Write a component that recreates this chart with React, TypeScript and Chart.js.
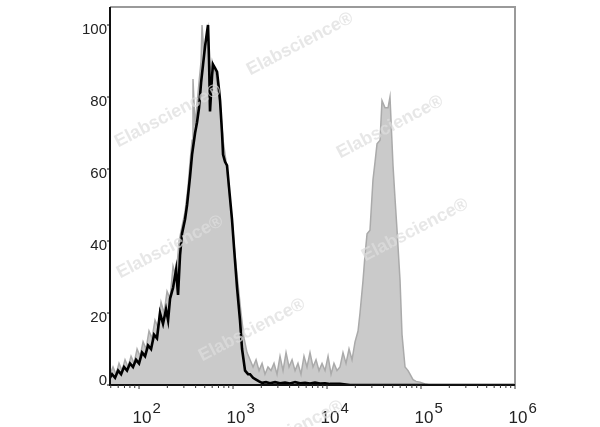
import React, { useEffect, useRef } from "react";
import { Chart, registerables } from "chart.js";

Chart.register(...registerables);

// Log10 of fluorescence intensity for each histogram bin, and normalised counts (% of max)
const stainedLogX = [
  1.691, 1.723, 1.755, 1.787, 1.819, 1.851, 1.883, 1.915, 1.947, 1.979,
  2.011, 2.043, 2.074, 2.106, 2.138, 2.170, 2.202, 2.234, 2.266, 2.298,
  2.330, 2.362, 2.394, 2.426, 2.457, 2.489, 2.521, 2.543, 2.564, 2.574,
  2.596, 2.617, 2.638, 2.660, 2.670, 2.691, 2.713, 2.734, 2.755, 2.777,
  2.798, 2.819, 2.840, 2.862, 2.894, 2.926, 2.957, 2.989, 3.021, 3.053,
  3.085, 3.117, 3.149, 3.181, 3.213, 3.245, 3.277, 3.309, 3.340, 3.372,
  3.404, 3.436, 3.468, 3.500, 3.532, 3.564, 3.596, 3.628, 3.660, 3.691,
  3.723, 3.755, 3.787, 3.819, 3.851, 3.883, 3.915, 3.947, 3.979, 4.011,
  4.043, 4.074, 4.106, 4.138, 4.170, 4.202, 4.234, 4.266, 4.298, 4.330,
  4.351, 4.383, 4.404, 4.426, 4.457, 4.489, 4.511, 4.532, 4.564, 4.585,
  4.617, 4.649, 4.670, 4.702, 4.723, 4.745, 4.777, 4.798, 4.830, 4.862,
  4.883, 4.915, 4.947, 4.989, 5.043, 5.096, 6.0,
];
const stainedCounts = [
  3, 5, 3, 6, 4, 7, 5, 8, 6, 10,
  8, 12, 10, 15, 13, 18, 16, 23, 20, 26,
  24, 33, 30, 40, 44, 48, 55, 62, 68, 85,
  72, 78, 84, 90, 100, 92, 96, 99, 86, 90,
  88, 86, 82, 78, 68, 62, 54, 46, 36, 28,
  20, 13, 9, 7, 5, 7, 4, 6, 3, 5,
  4, 6, 3, 8, 4, 9, 5, 7, 4, 6,
  3, 8, 5, 9, 5, 7, 4, 6, 4, 8,
  3, 6, 4, 5, 9, 6, 10, 7, 12, 15,
  20, 29, 36, 42, 43, 57, 62, 67, 68, 79,
  77, 77, 80, 61, 52, 43, 29, 14, 5, 4,
  3, 1.5, 1, 0.8, 0.3, 0, 0,
];

const isotypeLogX = [
  1.691, 1.713, 1.745, 1.777, 1.809, 1.840, 1.872, 1.904, 1.936, 1.968,
  2.000, 2.032, 2.064, 2.096, 2.128, 2.160, 2.191, 2.223, 2.255, 2.287,
  2.309, 2.330, 2.362, 2.394, 2.415, 2.436, 2.457, 2.489, 2.511, 2.543,
  2.564, 2.596, 2.617, 2.638, 2.660, 2.681, 2.702, 2.723, 2.734, 2.745,
  2.755, 2.777, 2.787, 2.809, 2.830, 2.851, 2.862, 2.883, 2.894, 2.915,
  2.936, 2.957, 2.989, 3.011, 3.043, 3.074, 3.096, 3.128, 3.160, 3.181,
  3.213, 3.245, 3.277, 3.309, 3.351, 3.394, 3.447, 3.500, 3.553, 3.606,
  3.660, 3.713, 3.766, 3.819, 3.872, 3.926, 3.979, 4.032, 4.138, 4.245,
  6.0,
];
const isotypeCounts = [
  2, 3, 2, 4, 3, 5, 4, 6, 5, 7,
  6, 9, 8, 11, 10, 14, 13, 20, 17, 21,
  18, 24, 27, 32, 25, 36, 42, 46, 50, 58,
  64, 70, 73, 77, 84, 89, 94, 98, 100, 90,
  76, 86, 89, 88, 87, 82, 79, 70, 64, 62,
  61, 55, 46, 38, 27, 18, 10, 4, 3, 3,
  2, 1.5, 1, 0.6, 0.8, 0.5, 0.8, 0.5, 0.7, 0.4,
  0.8, 0.5, 0.6, 0.4, 0.7, 0.4, 0.5, 0.3, 0.3, 0,
  0,
];

const yTickValues = [0, 20, 40, 60, 80, 100];
const xDecades = [2, 3, 4, 5, 6];
const xMinLog = 1.691;
const yMax = 105;
const watermarkText = "Elabscience®";
const watermarkCenters = [
  [300, 44], [168, 116], [390, 127], [170, 247], [415, 230], [252, 330], [290, 432],
];

const frame = {
  id: "flowFrame",
  afterDraw(chart: any) {
    const { ctx, chartArea: a, scales } = chart;
    const xs = scales.x;
    const ys = scales.y;
    ctx.save();
    // borders
    ctx.lineWidth = 2;
    ctx.strokeStyle = "#9a9a9a";
    ctx.beginPath();
    ctx.moveTo(a.left, a.top);
    ctx.lineTo(a.right, a.top);
    ctx.lineTo(a.right, a.bottom);
    ctx.stroke();
    ctx.strokeStyle = "#111";
    ctx.beginPath();
    ctx.moveTo(a.left, a.top);
    ctx.lineTo(a.left, a.bottom);
    ctx.lineTo(a.right, a.bottom);
    ctx.stroke();

    // y ticks and labels
    ctx.lineWidth = 1;
    ctx.fillStyle = "#222";
    ctx.font = '15px "Liberation Sans", Arial, sans-serif';
    ctx.textAlign = "right";
    ctx.textBaseline = "middle";
    yTickValues.forEach((v) => {
      const py = ys.getPixelForValue(v);
      ctx.beginPath();
      ctx.moveTo(a.left - 3, py);
      ctx.lineTo(a.left, py);
      ctx.stroke();
      const ly = Math.min(py + 5, a.bottom - 4);
      ctx.fillText(String(v), a.left - 3, ly);
    });

    // x ticks (major + minor)
    xDecades.forEach((d) => {
      const px = xs.getPixelForValue(Math.pow(10, d));
      ctx.strokeStyle = "#333";
      ctx.beginPath();
      ctx.moveTo(px, a.bottom);
      ctx.lineTo(px, a.bottom + 4);
      ctx.stroke();
    });
    for (let d = 1; d < 6; d++) {
      for (let k = 2; k <= 9; k++) {
        const v = k * Math.pow(10, d);
        if (Math.log10(v) < xMinLog) continue;
        const px = xs.getPixelForValue(v);
        ctx.beginPath();
        ctx.moveTo(px, a.bottom);
        ctx.lineTo(px, a.bottom + 3);
        ctx.stroke();
      }
    }
    // x labels 10^n
    ctx.textBaseline = "alphabetic";
    xDecades.forEach((d) => {
      const px = xs.getPixelForValue(Math.pow(10, d));
      ctx.font = '17px "Liberation Sans", Arial, sans-serif';
      ctx.textAlign = "center";
      const baseW = ctx.measureText("10").width;
      const cx = px + 3;
      ctx.fillText("10", cx, a.bottom + 38);
      ctx.font = '15px "Liberation Sans", Arial, sans-serif';
      ctx.textAlign = "left";
      ctx.fillText(String(d), cx + baseW / 2 + 1, a.bottom + 28);
    });

    // watermarks
    ctx.font = 'bold 18px "Liberation Sans", Arial, sans-serif';
    ctx.textAlign = "center";
    ctx.textBaseline = "middle";
    ctx.fillStyle = "rgba(222,222,222,0.72)";
    watermarkCenters.forEach(([x, y]) => {
      ctx.save();
      ctx.translate(x, y);
      ctx.rotate(-0.48);
      ctx.fillText(watermarkText, 0, 0);
      ctx.restore();
    });
    ctx.restore();
  },
};

export default function App() {
  const ref = useRef<HTMLCanvasElement>(null);
  useEffect(() => {
    if (!ref.current) return;
    const chart = new Chart(ref.current, {
      type: "line",
      data: {
        datasets: [
          {
            label: "Isotype",
            data: isotypeLogX.map((e, i) => ({ x: Math.pow(10, e), y: isotypeCounts[i] })),
            borderColor: "#000",
            borderWidth: 2.6,
            fill: false,
            pointRadius: 0,
            tension: 0,
            order: 0,
          },
          {
            label: "Stained",
            data: stainedLogX.map((e, i) => ({ x: Math.pow(10, e), y: stainedCounts[i] })),
            borderColor: "#aaaaaa",
            backgroundColor: "#cacaca",
            borderWidth: 1.5,
            fill: "origin",
            pointRadius: 0,
            tension: 0,
            order: 1,
          },
        ],
      },
      options: {
        animation: false,
        responsive: false,
        layout: { padding: { left: 110, right: 85, top: 7, bottom: 42 } },
        plugins: { legend: { display: false }, tooltip: { enabled: false } },
        scales: {
          x: { type: "logarithmic", min: Math.pow(10, xMinLog), max: 1e6, display: false },
          y: { type: "linear", min: 0, max: yMax, display: false },
        },
      },
      plugins: [frame],
    });
    return () => chart.destroy();
  }, []);
  return (
    <div style={{ position: "absolute", left: 0, top: 0, width: 600, height: 427, background: "#fff" }}>
      <canvas ref={ref} width={600} height={427} />
    </div>
  );
}
